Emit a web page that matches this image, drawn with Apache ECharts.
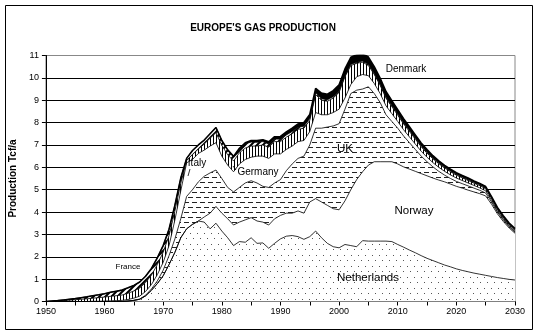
<!DOCTYPE html>
<html><head><meta charset="utf-8">
<script src="https://cdn.jsdelivr.net/npm/echarts@6/dist/echarts.min.js"></script>
<style>html,body{margin:0;padding:0;background:#fff}#c{width:542px;height:335px}</style>
</head><body><div id="c"></div>
<script>
// ---- data (Tcf per year), years 1950..2030 ----
const years = Array.from({length: 81}, (_, i) => String(1950 + i));
const netherlands = [0,0,0,0,0,0,0,0,0,0,
 0,0,0,0,0.02,0.05,0.1,0.25,0.5,0.8,
 1.15,1.65,2.2,2.85,3.25,3.45,3.6,3.55,3.25,3.5,
 3.15,2.85,2.5,2.68,2.65,2.85,2.6,2.62,2.38,2.6,
 2.8,2.92,2.95,2.9,2.78,2.9,3.15,2.85,2.6,2.45,
 2.4,2.55,2.5,2.45,2.72,2.7,2.7,2.7,2.7,2.68,
 2.55,2.43,2.3,2.18,2.05,1.93,1.83,1.73,1.63,1.55,
 1.46,1.39,1.33,1.27,1.22,1.17,1.12,1.07,1.03,0.99,
 0.96];
const norway = [0,0,0,0,0,0,0,0,0,0,
 0,0,0,0,0,0,0,0,0,0,
 0,0,0,0,0,0,0,0.23,0.7,0.75,
 0.8,0.85,0.92,0.87,1.0,0.9,1.0,0.93,1.04,1.1,
 1.05,1.03,1.0,1.15,1.17,1.55,1.45,1.6,1.7,1.7,
 1.7,1.95,2.5,3.0,3.08,3.4,3.55,3.55,3.55,3.57,
 3.6,3.59,3.62,3.64,3.67,3.69,3.69,3.7,3.72,3.7,
 3.69,3.68,3.65,3.63,3.6,3.55,3.23,2.85,2.55,2.3,
 2.09];
const uk = [0,0,0,0,0,0,0,0,0,0,
 0,0,0,0,0,0,0.01,0.03,0.06,0.12,
 0.25,0.4,0.6,0.85,1.45,1.55,1.75,1.82,1.8,1.63,
 1.55,1.4,1.48,1.55,1.65,1.65,1.7,1.6,1.68,1.6,
 1.6,1.9,2.2,2.35,2.55,2.55,3.15,3.3,3.5,3.7,
 3.85,4.1,4.3,4.0,3.7,3.5,3.05,2.65,2.1,1.8,
 1.6,1.38,1.18,0.98,0.78,0.63,0.5,0.39,0.3,0.25,
 0.22,0.2,0.19,0.17,0.15,0.13,0.1,0.08,0.07,0.05,
 0.05];
const germany = [0,0,0,0,0,0,0,0,0.01,0.01,
 0.02,0.03,0.04,0.05,0.07,0.1,0.13,0.17,0.2,0.28,
 0.35,0.45,0.85,1.25,1.5,1.35,1.27,1.17,1.2,1.22,
 1.0,1.0,0.9,1.05,1.05,1.05,1.2,1.35,1.3,1.3,
 1.15,0.95,0.8,0.75,0.7,0.6,0.7,0.6,0.55,0.6,
 0.65,0.5,0.4,0.6,0.65,0.5,0.45,0.4,0.4,0.35,
 0.3,0.28,0.26,0.24,0.22,0.2,0.19,0.18,0.17,0.16,
 0.15,0.14,0.13,0.12,0.11,0.1,0.08,0.06,0.05,0.04,
 0.03];
const italy = [0,0.01,0.02,0.04,0.06,0.08,0.1,0.12,0.14,0.16,
 0.18,0.2,0.22,0.24,0.28,0.32,0.36,0.4,0.42,0.45,
 0.45,0.45,0.4,0.33,0.1,0.22,0.2,0.27,0.35,0.45,
 0.48,0.46,0.48,0.5,0.51,0.5,0.45,0.5,0.5,0.55,
 0.55,0.55,0.55,0.55,0.55,0.5,0.8,0.65,0.6,0.65,
 0.75,0.95,0.85,0.6,0.55,0.45,0.4,0.37,0.34,0.31,
 0.28,0.26,0.24,0.22,0.2,0.18,0.17,0.16,0.15,0.14,
 0.13,0.12,0.11,0.1,0.1,0.09,0.08,0.07,0.06,0.05,
 0.05];
const france = [0,0.01,0.02,0.03,0.04,0.05,0.07,0.09,0.11,0.13,
 0.15,0.18,0.2,0.22,0.24,0.25,0.27,0.28,0.3,0.3,
 0.3,0.28,0.26,0.24,0.1,0.18,0.18,0.18,0.2,0.23,
 0.22,0.22,0.21,0.2,0.19,0.18,0.17,0.15,0.14,0.12,
 0.11,0.1,0.1,0.09,0.09,0.08,0.08,0.07,0.07,0.06,
 0.06,0.05,0.05,0.05,0.05,0.05,0.05,0.05,0.05,0.05,
 0.05,0.05,0.05,0.05,0.05,0.05,0.04,0.04,0.04,0.04,
 0.04,0.04,0.04,0.04,0.04,0.04,0.03,0.03,0.03,0.03,
 0.03];
const denmark = [0,0,0,0,0,0,0,0,0,0,
 0,0,0,0,0,0,0,0,0,0,
 0,0,0,0,0,0,0,0,0,0,
 0,0,0,0,0.05,0.07,0.08,0.08,0.1,0.1,
 0.12,0.13,0.15,0.15,0.16,0.18,0.2,0.25,0.25,0.27,
 0.28,0.3,0.32,0.33,0.33,0.33,0.3,0.27,0.25,0.22,
 0.2,0.18,0.16,0.14,0.12,0.11,0.1,0.09,0.08,0.08,
 0.07,0.07,0.07,0.06,0.06,0.06,0.05,0.05,0.05,0.05,
 0.05];
const xTickLabels = ['1950','1960','1970','1980','1990','2000','2010','2020','2030'];
const yTickLabels = [0,1,2,3,4,5,6,7,8,9,10,11];

// ---- fill patterns ----
function pat(w, h, draw) {
  const c = document.createElement('canvas'); c.width = w; c.height = h;
  const g = c.getContext('2d'); g.fillStyle = '#fff'; g.fillRect(0, 0, w, h);
  draw(g); return {image: c, repeat: 'repeat'};
}
const dotPat = pat(7, 11, g => { g.fillStyle = '#555'; g.fillRect(1, 2, 1, 1); g.fillRect(4, 7, 1, 1); });
const dashPat = pat(8, 10, g => { g.fillStyle = '#222'; g.fillRect(0, 2, 5, 1); g.fillRect(4, 7, 4, 1); g.fillRect(0, 7, 1, 1); });
const vertPat = pat(3, 4, g => { g.fillStyle = '#000'; g.fillRect(0, 0, 1, 4); });
const diagPat = pat(6, 6, g => {
  g.strokeStyle = '#000'; g.lineWidth = 2; g.beginPath();
  g.moveTo(0, 6); g.lineTo(6, 0); g.moveTo(-3, 3); g.lineTo(3, -3); g.moveTo(3, 9); g.lineTo(9, 3); g.stroke();
});

const font = 'Liberation Sans, Arial, sans-serif';
function mk(name, arr, fill, lw) {
  return {
    name, type: 'line', stack: 'all', symbol: 'none', smooth: false,
    data: arr,
    lineStyle: {color: '#000', width: lw || 0.8},
    areaStyle: {color: fill, opacity: 1},
    silent: true, animation: false
  };
}
function label(x, y, text, size) {
  return {type: 'text', x, y, z: 100, silent: true,
    style: {text, font: size + 'px ' + font, fill: '#000', align: 'center', verticalAlign: 'middle'}};
}

const chart = echarts.init(document.getElementById('c'), null, {renderer: 'canvas'});
chart.setOption({
  animation: false,
  backgroundColor: '#fff',
  title: {text: "EUROPE'S GAS PRODUCTION", left: 258, top: 18, textAlign: 'center',
    textStyle: {fontFamily: font, fontSize: 10, fontWeight: 'bold', color: '#000'}},
  grid: {left: 43.5, right: 27, top: 55.5, bottom: 33.5, show: true, borderColor: '#888', borderWidth: 1, backgroundColor: 'transparent'},
  xAxis: {type: 'category', data: years, boundaryGap: false,
    axisLine: {lineStyle: {color: '#000', width: 1}},
    axisTick: {show: true, length: 4, interval: 4, lineStyle: {color: '#000'}},
    axisLabel: {fontFamily: font, fontSize: 9, color: '#000', margin: 6, interval: 9,
      formatter: v => xTickLabels.indexOf(v) >= 0 ? v : ''},
    splitLine: {show: false}},
  yAxis: {type: 'value', min: 0, max: 11, interval: 1,
    name: 'Production Tcf/a', nameLocation: 'middle', nameGap: 18,
    nameTextStyle: {fontFamily: font, fontSize: 10, fontWeight: 'bold', color: '#000'},
    axisLine: {show: true, lineStyle: {color: '#000', width: 1}},
    axisTick: {show: true, length: 4, lineStyle: {color: '#000'}},
    axisLabel: {fontFamily: font, fontSize: 9, color: '#000', margin: 7,
      formatter: v => yTickLabels.indexOf(v) >= 0 ? String(v) : ''},
    splitLine: {show: true, showMaxLine: false, lineStyle: {color: '#000', width: 1}}},
  series: [
    mk('Netherlands', netherlands, dotPat),
    mk('Norway', norway, '#fff'),
    mk('UK', uk, dashPat),
    mk('Germany', germany, '#fff'),
    mk('Italy', italy, vertPat),
    mk('France', france, diagPat),
    mk('Denmark', denmark, '#000', 1.6)
  ],
  graphic: [
    {type: 'rect', z: 100, silent: true, shape: {x: 5.5, y: 5.5, width: 527, height: 324}, style: {fill: 'none', stroke: '#000', lineWidth: 1}},
    label(406, 69, 'Denmark', 10),
    label(345, 149, 'UK', 11.5),
    label(414, 211, 'Norway', 11.5),
    label(368, 278, 'Netherlands', 11.5),
    label(258, 172, 'Germany', 10),
    label(197, 163, 'Italy', 10),
    label(128, 267, 'France', 8),
    {type: 'polyline', z: 100, silent: true, shape: {points: [[190, 169], [188, 176]]}, style: {stroke: '#000', lineWidth: 0.8}},
    {type: 'polyline', z: 100, silent: true, shape: {points: [[236, 170], [233, 166]]}, style: {stroke: '#000', lineWidth: 0.8}}
  ]
});
</script></body></html>
